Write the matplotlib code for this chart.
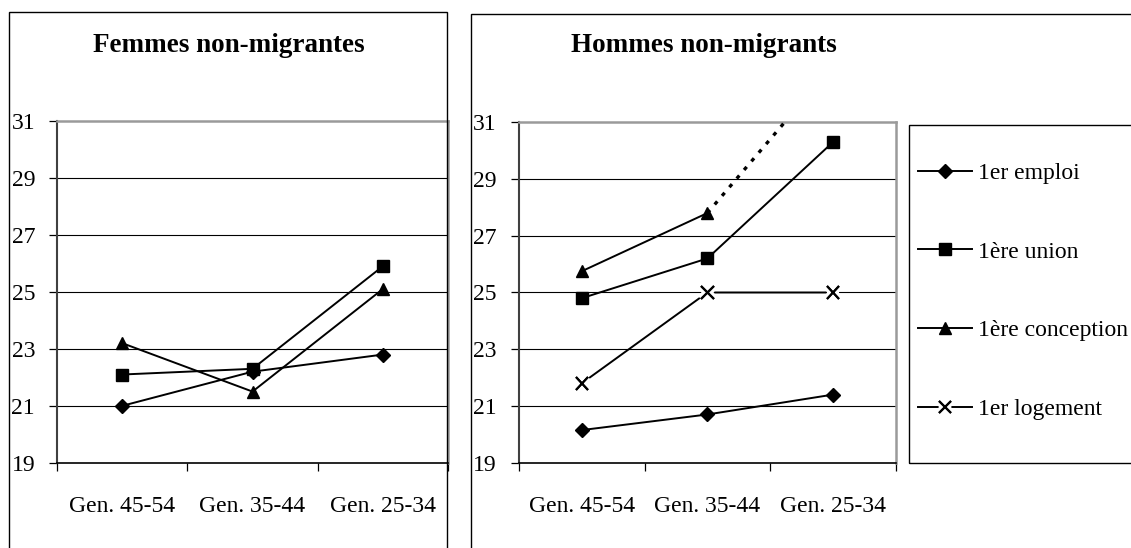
import matplotlib
matplotlib.use("Agg")
import matplotlib.pyplot as plt
import matplotlib.patheffects as pe
from matplotlib.patches import Rectangle

plt.rcParams['font.family'] = ['Liberation Serif', 'DejaVu Serif']

# data
cats = ["Gen. 45-54", "Gen. 35-44", "Gen. 25-34"]
yticks = [19, 21, 23, 25, 27, 29, 31]

femmes_emploi = [21.0, 22.2, 22.8]
femmes_union = [22.1, 22.3, 25.9]
femmes_conception = [23.2, 21.5, 25.1]

hommes_emploi = [20.15, 20.7, 21.4]
hommes_union = [24.8, 26.2, 30.3]
hommes_conception = [25.75, 27.8, 33.0]   # last point is off the chart (dotted)
hommes_logement = [21.8, 25.0, 25.0]

labels = ["1er emploi", "1ère union", "1ère conception", "1er logement"]

W, H = 1131, 548
fig = plt.figure(figsize=(W / 100, H / 100), dpi=100)


def px(x0, y0, x1, y1):
    # pixel box -> figure fraction [left, bottom, width, height]
    return [x0 / W, 1 - y1 / H, (x1 - x0) / W, (y1 - y0) / H]


# outer frames of the two charts
fig.patches.append(Rectangle((9 / W, -0.1), (446.7 - 9) / W, 1.1 - 11.7 / H,
                             transform=fig.transFigure, fill=False,
                             edgecolor='black', lw=1.0))
fig.patches.append(Rectangle((471 / W, -0.1), 1.0, 1.1 - 14 / H,
                             transform=fig.transFigure, fill=False,
                             edgecolor='black', lw=1.0))
# legend frame
fig.patches.append(Rectangle((909.3 / W, 1 - 462.7 / H), 1.0, (462.7 - 125) / H,
                             transform=fig.transFigure, fill=False,
                             edgecolor='black', lw=1.0))

FS = 17


def style_axes(ax):
    x = range(len(cats))
    ax.set_xlim(-0.5, len(cats) - 0.5)
    ax.set_ylim(19, 31)
    ax.set_yticks(yticks)
    for v in yticks[1:-1]:
        ax.axhline(v, color='black', lw=0.8, zorder=1)
    ax.set_xticks([i - 0.5 for i in range(len(cats) + 1)])
    ax.set_xticklabels([])
    ax.set_xticks(list(x), minor=True)
    ax.set_xticklabels(cats, minor=True)
    ax.tick_params(axis='x', which='major', direction='out', length=6, width=0.9)
    ax.tick_params(axis='x', which='minor', length=0, pad=24, labelsize=FS)
    ax.tick_params(axis='y', direction='out', length=6, width=0.9, pad=10,
                   labelsize=FS)
    ax.spines['left'].set_color('#404040')
    ax.spines['left'].set_linewidth(1.5)
    ax.spines['bottom'].set_color('black')
    ax.spines['bottom'].set_linewidth(1.2)
    for s in ('top', 'right'):
        ax.spines[s].set_color('#9a9a9a')
        ax.spines[s].set_linewidth(1.8)


line_kw = dict(color='black', lw=1.4, zorder=3)

# ---- Femmes
ax1 = fig.add_axes(px(57.3, 121.3, 447.7, 462.7))
style_axes(ax1)
xs = range(len(cats))
ax1.plot(xs, femmes_emploi, marker='D', ms=7, **line_kw)
ax1.plot(xs, femmes_union, marker='s', ms=8, **line_kw)
ax1.plot(xs, femmes_conception, marker='^', ms=9, **line_kw)
fig.text(229 / W, 1 - 45 / H, "Femmes non-migrantes", ha='center', va='center',
         fontsize=19.5, fontweight='bold')

# ---- Hommes
ax2 = fig.add_axes(px(519, 122.3, 895.7, 462.7))
style_axes(ax2)
l1, = ax2.plot(xs, hommes_emploi, marker='D', ms=7, **line_kw)
l2, = ax2.plot(xs, hommes_union, marker='s', ms=8, **line_kw)
l3, = ax2.plot(list(xs)[:2], hommes_conception[:2], marker='^', ms=9, **line_kw)
ax2.plot(list(xs)[1:], hommes_conception[1:], color='black', lw=2.4,
         linestyle=(0, (1.2, 2.2)), zorder=3)
l4, = ax2.plot(xs, hommes_logement, **line_kw)
m4, = ax2.plot(xs, hommes_logement, linestyle='none', marker='x', ms=9, mew=1.5,
               color='black', zorder=4,
               path_effects=[pe.withStroke(linewidth=6, foreground='white'),
                             pe.Normal()])
fig.text(703.7 / W, 1 - 45 / H, "Hommes non-migrants", ha='center', va='center',
         fontsize=19.5, fontweight='bold')

fig.legend([l1, l2, l3, (l4, m4)], labels, loc='upper left',
           bbox_to_anchor=(918 / W, 1 - 162.5 / H), frameon=False, fontsize=FS,
           numpoints=1, handlelength=2.3, handletextpad=0.25, labelspacing=2.42,
           borderpad=0, borderaxespad=0)

fig.savefig("out.png", dpi=100)
